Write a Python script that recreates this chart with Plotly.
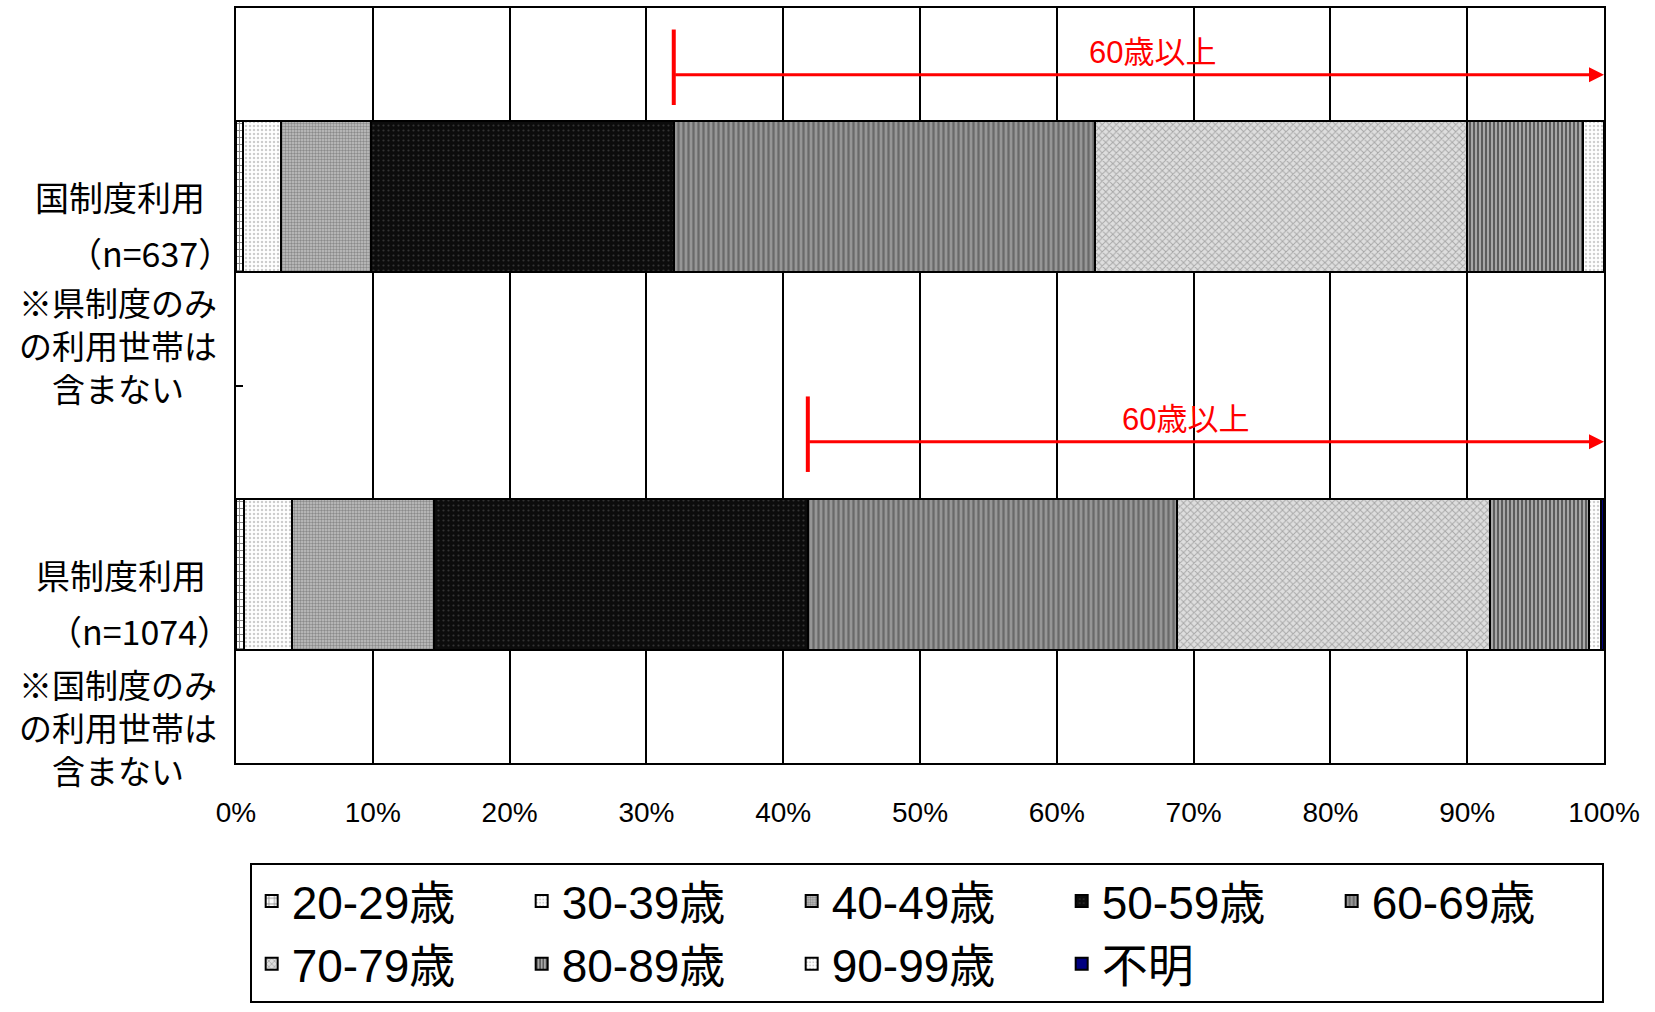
import plotly.graph_objects as go

# 年齢階層別の世帯構成比（%）
groups = ["国制度利用", "県制度利用"]
group_counts = ["（n=637）", "（n=1074）"]
group_notes = [
    ["※県制度のみ", "の利用世帯は", "含まない"],
    ["※国制度のみ", "の利用世帯は", "含まない"],
]
age_labels = ["20-29歳", "30-39歳", "40-49歳", "50-59歳", "60-69歳",
              "70-79歳", "80-89歳", "90-99歳", "不明"]
share_kuni = [0.5, 2.8, 6.6, 22.1, 30.8, 27.2, 8.5, 1.5, 0.0]
share_ken = [0.6, 3.5, 10.4, 27.3, 27.0, 22.9, 7.2, 0.9, 0.2]
x_ticks = [0, 10, 20, 30, 40, 50, 60, 70, 80, 90, 100]
x_ticktext = [f"{v}%" for v in x_ticks]
over60_label = "60歳以上"

# 白黒印刷向けの塗りパターン
patterns = [
    dict(shape="+", bgcolor="#ffffff", fgcolor="#000000", size=7, solidity=0.25),
    dict(shape=".", bgcolor="#ffffff", fgcolor="#9a9a9a", size=4, solidity=0.3),
    dict(shape=".", bgcolor="#c4c4c4", fgcolor="#505050", size=3, solidity=0.5),
    dict(shape=".", bgcolor="#0c0c0c", fgcolor="#5a5a5a", size=5, solidity=0.15),
    dict(shape="|", bgcolor="#969696", fgcolor="#3c3c3c", size=5, solidity=0.45),
    dict(shape="x", bgcolor="#dedede", fgcolor="#707070", size=5, solidity=0.35),
    dict(shape="|", bgcolor="#a8a8a8", fgcolor="#111111", size=4, solidity=0.5),
    dict(shape=".", bgcolor="#ffffff", fgcolor="#a0a0a0", size=4, solidity=0.3),
    dict(shape="", bgcolor="#000080", fgcolor="#000080", size=4, solidity=0.3),
]
solid_colors = ["#ffffff", "#f4f4f4", "#b4b4b4", "#111111", "#808080",
                "#cccccc", "#666666", "#f0f0f0", "#000080"]

LATIN = "Liberation Sans, Arial, Noto Sans CJK JP, sans-serif"
CJK = "Noto Sans CJK JP, Noto Sans CJK SC, sans-serif"

# プロット領域（ピクセル）
W, H = 1655, 1012
L, R, T, B = 236, 51, 8, 249
PLOT_W = W - L - R


def px_to_paper_x(px):
    return (px - L) / PLOT_W


fig = go.Figure()
for i, lab in enumerate(age_labels):
    fig.add_trace(go.Bar(
        y=groups,
        x=[share_kuni[i], share_ken[i]],
        name=lab,
        orientation="h",
        width=0.4,
        marker=dict(color=solid_colors[i], pattern=patterns[i],
                    line=dict(color="#000000", width=2)),
        hoverinfo="skip",
    ))

# 60歳以上の範囲を示す赤矢印
arrow_offsets = [-0.323, -0.351]
text_x = [67.0, 69.4]
for gi, vals in enumerate([share_kuni, share_ken]):
    start = sum(vals[:4])
    yy = gi + arrow_offsets[gi]
    fig.add_annotation(x=100, y=yy, xref="x", yref="y", ax=start, ay=0,
                       axref="x", ayref="pixel", text="", showarrow=True,
                       arrowhead=2, arrowsize=1.0, arrowwidth=3,
                       arrowcolor="#ff0000", standoff=0, startstandoff=0)
    fig.add_shape(type="line", xref="x", yref="y", x0=start, x1=start,
                  y0=yy - 0.12, y1=yy + 0.08,
                  line=dict(color="#ff0000", width=4))
    fig.add_annotation(x=text_x[gi], y=yy, xref="x", yref="y", yshift=22,
                       text=over60_label, showarrow=False,
                       font=dict(family=LATIN, size=31, color="#ff0000"))

# 縦軸の項目名と注記
label_cx = [120, 121]
count_cx = [150, 139]
note_dy = [148, 153]
for gi, g in enumerate(groups):
    fig.add_annotation(x=px_to_paper_x(label_cx[gi]), xref="paper", y=g,
                       yref="y", text=g, showarrow=False, xanchor="center",
                       font=dict(family=CJK, size=34, color="#000000"))
    fig.add_annotation(x=px_to_paper_x(count_cx[gi]), xref="paper", y=g,
                       yref="y", yshift=-56, text=group_counts[gi],
                       showarrow=False, xanchor="center",
                       font=dict(family=CJK, size=34, color="#000000"))
    fig.add_annotation(x=px_to_paper_x(118), xref="paper", y=g, yref="y",
                       yshift=-note_dy[gi], text="<br>".join(group_notes[gi]),
                       showarrow=False, xanchor="center", align="center",
                       font=dict(family=CJK, size=33, color="#000000"))

fig.update_layout(
    width=W, height=H,
    margin=dict(l=L, r=R, t=T, b=B, autoexpand=False),
    barmode="stack",
    plot_bgcolor="#ffffff", paper_bgcolor="#ffffff",
    showlegend=True,
    legend=dict(
        orientation="h", x=0.01, xanchor="left", y=-0.132, yanchor="top",
        bordercolor="#000000", borderwidth=2, bgcolor="#ffffff",
        entrywidth=225, entrywidthmode="pixels", traceorder="normal",
        font=dict(family=LATIN, size=46, color="#000000"),
    ),
    xaxis=dict(
        range=[0, 100], tickmode="array", tickvals=x_ticks,
        ticktext=x_ticktext,
        showgrid=True, gridcolor="#000000", gridwidth=2,
        showline=True, linecolor="#000000", linewidth=2, mirror=True,
        ticks="", ticklabelstandoff=23, zeroline=False,
        tickfont=dict(family=LATIN, size=28, color="#000000"),
    ),
    yaxis=dict(
        categoryorder="array", categoryarray=groups,
        autorange=False, range=[1.5, -0.5],
        showticklabels=False, tickson="boundaries", ticks="inside",
        ticklen=7, tickwidth=2, tickcolor="#000000",
        showgrid=False, showline=True, linecolor="#000000", linewidth=2,
        mirror=True,
    ),
    hovermode=False,
)

fig.write_html("out.html")
